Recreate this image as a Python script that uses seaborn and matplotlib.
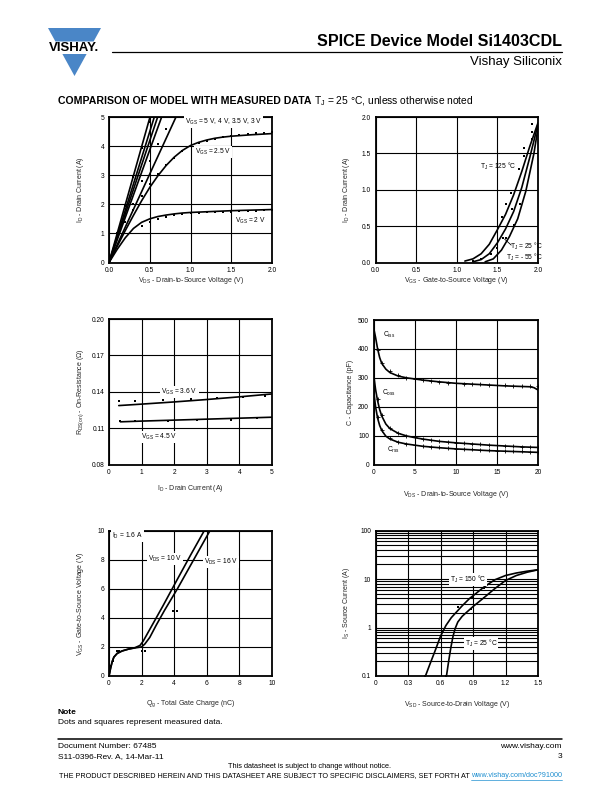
import numpy as np
import pandas as pd
import matplotlib
matplotlib.use('Agg')
import matplotlib.pyplot as plt
import seaborn as sns
from matplotlib.patches import Polygon
from matplotlib.ticker import LogLocator, NullFormatter

# ---------------- data ----------------
# Plot 1: Output characteristics (VDS in V, ID in A)
p1_steep_vds = {"5V": [0.0, 0.503], "4.5V": [0.0, 0.556], "4V": [0.0, 0.597],
                "3.5V": [0.0, 0.646], "3V": [0.0, 0.822]}
p1_steep_id = [0.0, 5.0]
p1_vds_25 = [0.0, 0.1, 0.2, 0.3, 0.4, 0.5, 0.6, 0.7, 0.8, 0.9, 1.0, 1.1, 1.2, 1.3, 1.4, 1.5, 1.75, 2.0]
p1_id_25 = [0.0, 0.55, 1.1, 1.62, 2.12, 2.58, 2.98, 3.33, 3.62, 3.85, 4.02, 4.13, 4.21, 4.27, 4.31, 4.34, 4.39, 4.43]
p1_vds_20 = [0.0, 0.1, 0.2, 0.3, 0.4, 0.5, 0.6, 0.7, 0.8, 0.9, 1.0, 1.25, 1.5, 1.75, 2.0]
p1_id_20 = [0.0, 0.45, 0.85, 1.17, 1.38, 1.5, 1.58, 1.63, 1.67, 1.7, 1.72, 1.75, 1.78, 1.8, 1.82]
p1_meas_vds = [0.4, 0.5, 0.6, 0.7, 0.8, 0.9, 1.0, 1.1, 1.2, 1.3, 1.4, 1.5, 1.6, 1.7, 1.8, 1.9, 2.0,
               0.4, 0.5, 0.6, 0.7, 0.8, 0.9, 1.0, 1.1, 1.2, 1.3, 1.4, 1.5, 1.6, 1.7, 1.8, 1.9, 2.0,
               0.5, 0.7, 0.6, 0.4, 0.6, 0.3, 0.5, 0.4, 0.4, 0.3, 0.2, 0.3, 0.1, 0.2, 0.1, 0.5]
p1_meas_id = [1.25, 1.4, 1.5, 1.58, 1.63, 1.67, 1.7, 1.71, 1.72, 1.73, 1.74, 1.75, 1.76, 1.77, 1.78, 1.79, 1.8,
              2.28, 2.7, 3.05, 3.35, 3.6, 3.83, 4.0, 4.1, 4.18, 4.24, 4.3, 4.34, 4.37, 4.41, 4.44, 4.46, 4.48,
              4.82, 4.6, 4.06, 3.92, 3.05, 2.95, 2.7, 2.8, 2.27, 2.0, 1.95, 1.8, 1.0, 1.4, 0.9, 3.5]

# Plot 2: Transfer characteristics (VGS in V, ID in A)
p2_vgs_125 = [1.1, 1.2, 1.3, 1.4, 1.5, 1.6, 1.7, 1.8, 1.9, 2.0]
p2_id_125 = [0.02, 0.05, 0.12, 0.25, 0.45, 0.66, 0.93, 1.25, 1.6, 1.92]
p2_vgs_25 = [1.2, 1.3, 1.4, 1.5, 1.6, 1.7, 1.8, 1.9, 2.0]
p2_id_25 = [0.01, 0.04, 0.12, 0.27, 0.46, 0.7, 1.03, 1.45, 1.9]
p2_vgs_m55 = [1.35, 1.45, 1.55, 1.65, 1.75, 1.85, 1.95, 2.0]
p2_id_m55 = [0.01, 0.05, 0.17, 0.36, 0.6, 0.98, 1.5, 1.85]
p2_meas_vgs = [1.92, 1.92, 1.92, 1.83, 1.83, 1.76, 1.67, 1.78, 1.61, 1.68, 1.56, 1.71, 1.57, 1.6, 1.5, 1.42, 1.3, 1.2]
p2_meas_id = [1.9, 1.8, 1.7, 1.58, 1.46, 1.28, 0.95, 0.8, 0.8, 0.73, 0.63, 0.52, 0.34, 0.33, 0.2, 0.12, 0.05, 0.02]

# Plot 3: On-resistance vs drain current (ID in A, RDS in ohm)
p3_id_36 = [0.3, 1.0, 2.0, 3.0, 4.0, 5.0]
p3_r_36 = [0.1286, 0.1298, 0.1316, 0.1336, 0.1358, 0.1382]
p3_id_45 = [0.35, 1.0, 2.0, 3.0, 4.0, 5.0]
p3_r_45 = [0.1152, 0.1158, 0.1166, 0.1174, 0.1182, 0.119]
p3_meas_id = [0.3, 0.8, 1.65, 2.5, 3.3, 4.1, 4.8, 0.35, 0.8, 1.8, 2.7, 3.75, 4.55]
p3_meas_r = [0.132, 0.1325, 0.133, 0.134, 0.135, 0.136, 0.1365, 0.1155, 0.1158, 0.1162, 0.1165, 0.117, 0.118]

# Plot 4: Capacitance (VDS in V, C in pF)
p4_vds_iss = [0, 0.25, 0.5, 0.75, 1, 1.5, 2, 3, 4, 5, 6, 8, 10, 12, 14, 16, 18, 19, 19.5, 20]
p4_c_iss = [475, 440, 400, 370, 350, 330, 318, 306, 300, 296, 292, 286, 281, 278, 275, 272, 270, 269, 266, 258]
p4_vds_oss = [0, 0.25, 0.5, 0.75, 1, 1.5, 2, 3, 4, 5, 6, 8, 10, 12, 14, 16, 18, 20]
p4_c_oss = [315, 260, 220, 190, 168, 140, 124, 108, 99, 93, 88, 80, 75, 71, 67, 64, 61, 59]
p4_vds_rss = [0, 0.25, 0.5, 0.75, 1, 1.5, 2, 3, 4, 5, 6, 8, 10, 12, 14, 16, 18, 20]
p4_c_rss = [260, 200, 160, 135, 118, 98, 88, 77, 71, 67, 63, 58, 54, 51, 48, 46, 44, 42]
p4_meas_vds = [0.5, 1, 2, 3, 4, 5, 6, 7, 8, 9, 10, 11, 12, 13, 14, 15, 16, 17, 18, 19, 20]
p4_meas_iss = [395, 352, 322, 308, 300, 296, 292, 289, 286, 283, 281, 280, 278, 277, 276, 275, 274, 273, 272, 271, 270]
p4_meas_oss = [225, 172, 128, 110, 100, 94, 89, 85, 82, 79, 76, 74, 72, 70, 68, 66, 65, 63, 62, 61, 60]
p4_meas_rss = [165, 120, 90, 78, 72, 68, 64, 61, 59, 57, 55, 53, 52, 50, 49, 48, 47, 46, 45, 44, 43]

# Plot 5: Gate charge (Qg in nC, VGS in V)
p5_q_10 = [0, 0.1, 0.2, 0.3, 0.5, 0.8, 1.2, 1.6, 1.9, 2.1, 2.4, 2.8, 3.3, 4.0, 5.0, 5.9]
p5_v_10 = [0, 0.55, 1.0, 1.3, 1.55, 1.72, 1.85, 1.95, 2.1, 2.4, 3.0, 3.8, 4.8, 6.25, 8.3, 10.1]
p5_q_16 = [0, 0.1, 0.2, 0.3, 0.5, 0.8, 1.2, 1.6, 2.0, 2.2, 2.5, 2.9, 3.4, 4.2, 5.2, 6.2]
p5_v_16 = [0, 0.55, 1.0, 1.3, 1.55, 1.72, 1.85, 1.93, 2.0, 2.2, 2.65, 3.5, 4.5, 6.0, 8.0, 10.0]
p5_meas_q = [0.0, 0.1, 0.25, 0.5, 0.6, 2.0, 2.2, 3.95, 4.15, 7.95, 8.1]
p5_meas_v = [0.0, 0.7, 1.05, 1.7, 1.75, 1.75, 1.75, 4.5, 4.5, 9.95, 9.95]

# Plot 6: Source-drain diode (VSD in V, IS in A)
p6_vsd_150 = [0.461, 0.5, 0.55, 0.6, 0.65, 0.7, 0.74, 0.8, 0.87, 0.9, 1.0, 1.1, 1.2, 1.3, 1.4, 1.5]
p6_is_150 = [0.1, 0.17, 0.33, 0.66, 1.1, 1.6, 2.0, 2.8, 4.0, 4.5, 6.8, 9.6, 11.8, 13.3, 14.5, 15.5]
p6_vsd_25 = [0.655, 0.675, 0.695, 0.715, 0.735, 0.76, 0.8, 0.84, 0.9, 1.0, 1.1, 1.2, 1.3, 1.4, 1.5]
p6_is_25 = [0.1, 0.2, 0.38, 0.65, 0.95, 1.3, 1.7, 2.05, 2.7, 4.1, 6.3, 9.3, 11.8, 13.8, 15.5]
p6_meas_vsd = [0.46, 0.76, 0.89, 1.0, 0.65, 0.88, 1.0]
p6_meas_is = [0.1, 2.6, 4.0, 6.5, 0.1, 2.4, 4.0]

# ---------------- styling ----------------
sns.set_theme(style='white')
plt.rcParams['font.family'] = ['Liberation Sans', 'DejaVu Sans']
plt.rcParams['mathtext.fontset'] = 'custom'
plt.rcParams['mathtext.rm'] = 'Liberation Sans'
plt.rcParams['mathtext.it'] = 'Liberation Sans:italic'
plt.rcParams['mathtext.bf'] = 'Liberation Sans:bold'
plt.rcParams['text.color'] = 'black'

W, H = 612, 792
fig = plt.figure(figsize=(W / 100, H / 100), dpi=100)
fig.patch.set_facecolor('white')

ov = fig.add_axes([0, 0, 1, 1], zorder=-1)
ov.set_xlim(0, W)
ov.set_ylim(H, 0)
ov.axis('off')

TICK_FS = 4.8
LAB_FS = 5.0
TXT_FS = 4.8
LW = 1.2


def px_axes(l, t, r, b):
    return fig.add_axes([l / W, 1 - b / H, (r - l) / W, (b - t) / H])


def style(ax, box, xlim, ylim, xticks, xtl, yticks, ytl, xlabel, ylabel, xl_dist, yl_dist, log=False):
    l, t, r, b = box
    if log:
        ax.set_yscale('log')
        ax.yaxis.set_minor_locator(LogLocator(base=10, subs=np.arange(2, 10)))
        ax.yaxis.set_minor_formatter(NullFormatter())
    ax.set_xlim(xlim)
    ax.set_ylim(ylim)
    ax.set_xticks(xticks)
    ax.set_xticklabels(xtl)
    ax.set_yticks(yticks)
    ax.set_yticklabels(ytl)
    ax.tick_params(which='both', length=0, labelsize=TICK_FS, pad=3.2, colors='black')
    ax.grid(True, which='both', color='black', lw=0.8)
    ax.set_axisbelow(True)
    for s in ax.spines.values():
        s.set_visible(True)
        s.set_color('black')
        s.set_linewidth(1.3)
    ax.set_xlabel(xlabel, fontsize=LAB_FS)
    ax.set_ylabel(ylabel, fontsize=LAB_FS)
    hgt = b - t
    wid = r - l
    ax.xaxis.set_label_coords(0.5, -(xl_dist - 3.5) / hgt)
    ax.yaxis.set_label_coords(-(yl_dist - 3.5) / wid, 0.5)
    ax.set_facecolor('white')


def lab(ax, x, y, s, bg=True, **kw):
    bbox = dict(boxstyle='square,pad=0.15', fc='white', ec='none') if bg else None
    ax.text(x, y, s, fontsize=TXT_FS, ha='left', va='center', bbox=bbox, zorder=5, **kw)


def curves(ax, xs_list, ys_list):
    rows = []
    for i, (xs, ys) in enumerate(zip(xs_list, ys_list)):
        for xv, yv in zip(xs, ys):
            rows.append((i, xv, yv))
    df = pd.DataFrame(rows, columns=['curve', 'x', 'y'])
    sns.lineplot(data=df, x='x', y='y', units='curve', estimator=None, sort=False,
                 color='black', lw=LW, ax=ax, legend=False)


def dots(ax, xs, ys, marker='s', s=2.5):
    sns.scatterplot(x=xs, y=ys, ax=ax, color='black', marker=marker, s=s,
                    linewidth=0 if marker == 's' else 0.6, edgecolor='black', zorder=4, legend=False)


COL_L = (109, 272)
COL_R = (375.5, 538)
ROW1 = (117, 262.5)
ROW2 = (319, 464.5)
ROW3 = (530.5, 676)

# ---- Plot 1 ----
box1 = (COL_L[0], ROW1[0], COL_L[1], ROW1[1])
ax1 = px_axes(*box1)
curves(ax1, list(p1_steep_vds.values()) + [p1_vds_25, p1_vds_20],
       [p1_steep_id] * len(p1_steep_vds) + [p1_id_25, p1_id_20])
dots(ax1, p1_meas_vds, p1_meas_id)
style(ax1, box1, (0, 2), (0, 5), [0, 0.5, 1.0, 1.5, 2.0], ['0.0', '0.5', '1.0', '1.5', '2.0'],
      [0, 1, 2, 3, 4, 5], ['0', '1', '2', '3', '4', '5'],
      r'V$_{\rm DS}$ - Drain-to-Source Voltage (V)', r'I$_{\rm D}$ - Drain Current (A)', 16, 27)
lab(ax1, 0.93, 4.83, r'V$_{\rm GS}$ = 5 V, 4 V, 3.5 V, 3 V')
lab(ax1, 1.05, 3.8, r'V$_{\rm GS}$ = 2.5 V')
lab(ax1, 1.55, 1.42, r'V$_{\rm GS}$ = 2 V')

# ---- Plot 2 ----
box2 = (COL_R[0], ROW1[0], COL_R[1], ROW1[1])
ax2 = px_axes(*box2)
curves(ax2, [p2_vgs_125, p2_vgs_25, p2_vgs_m55], [p2_id_125, p2_id_25, p2_id_m55])
dots(ax2, p2_meas_vgs, p2_meas_id)
style(ax2, box2, (0, 2), (0, 2), [0, 0.5, 1.0, 1.5, 2.0], ['0.0', '0.5', '1.0', '1.5', '2.0'],
      [0, 0.5, 1.0, 1.5, 2.0], ['0.0', '0.5', '1.0', '1.5', '2.0'],
      r'V$_{\rm GS}$ - Gate-to-Source Voltage (V)', r'I$_{\rm D}$ - Drain Current (A)', 16, 27)
lab(ax2, 1.29, 1.32, r'T$_{\rm J}$ = 125 °C', bg=False)
lab(ax2, 1.65, 0.22, r'T$_{\rm J}$ = 25 °C', bg=False)
lab(ax2, 1.6, 0.07, r'T$_{\rm J}$ = - 55 °C', bg=False)
ax2.plot([1.59, 1.67], [0.32, 0.24], color='black', lw=0.6)

# ---- Plot 3 ----
box3 = (COL_L[0], ROW2[0], COL_L[1], ROW2[1])
ax3 = px_axes(*box3)
curves(ax3, [p3_id_36, p3_id_45], [p3_r_36, p3_r_45])
dots(ax3, p3_meas_id, p3_meas_r)
style(ax3, box3, (0, 5), (0.08, 0.20), [0, 1, 2, 3, 4, 5], ['0', '1', '2', '3', '4', '5'],
      [0.08, 0.11, 0.14, 0.17, 0.20], ['0.08', '0.11', '0.14', '0.17', '0.20'],
      r'I$_{\rm D}$ - Drain Current (A)', r'R$_{\rm DS(on)}$ - On-Resistance (Ω)', 22, 27)
lab(ax3, 1.6, 0.1398, r'V$_{\rm GS}$ = 3.6 V')
lab(ax3, 0.98, 0.103, r'V$_{\rm GS}$ = 4.5 V')

# ---- Plot 4 ----
box4 = (COL_R[0] - 2, ROW2[0] + 1, COL_R[1], ROW2[1])
ax4 = px_axes(*box4)
curves(ax4, [p4_vds_iss, p4_vds_oss, p4_vds_rss], [p4_c_iss, p4_c_oss, p4_c_rss])
dots(ax4, p4_meas_vds * 3, p4_meas_iss + p4_meas_oss + p4_meas_rss, marker='+', s=6)
style(ax4, box4, (0, 20), (0, 500), [0, 5, 10, 15, 20], ['0', '5', '10', '15', '20'],
      [0, 100, 200, 300, 400, 500], ['0', '100', '200', '300', '400', '500'],
      r'V$_{\rm DS}$ - Drain-to-Source Voltage (V)', 'C - Capacitance (pF)', 28, 23)
lab(ax4, 1.2, 448, r'C$_{\rm iss}$', bg=False)
lab(ax4, 1.0, 247, r'C$_{\rm oss}$', bg=False)
lab(ax4, 1.6, 52, r'C$_{\rm rss}$', bg=False)

# ---- Plot 5 ----
box5 = (COL_L[0], ROW3[0], COL_L[1], ROW3[1])
ax5 = px_axes(*box5)
curves(ax5, [p5_q_10, p5_q_16], [p5_v_10, p5_v_16])
dots(ax5, p5_meas_q, p5_meas_v)
style(ax5, box5, (0, 10), (0, 10), [0, 2, 4, 6, 8, 10], ['0', '2', '4', '6', '8', '10'],
      [0, 2, 4, 6, 8, 10], ['0', '2', '4', '6', '8', '10'],
      r'Q$_{\rm g}$ - Total Gate Charge (nC)', r'V$_{\rm GS}$ - Gate-to-Source Voltage (V)', 26, 27)
lab(ax5, 0.2, 9.6, r'I$_{\rm D}$ = 1.6 A')
lab(ax5, 2.38, 8.05, r'V$_{\rm DS}$ = 10 V')
lab(ax5, 5.83, 7.83, r'V$_{\rm DS}$ = 16 V')

# ---- Plot 6 ----
box6 = (COL_R[0], ROW3[0], COL_R[1], ROW3[1])
ax6 = px_axes(*box6)
curves(ax6, [p6_vsd_150, p6_vsd_25], [p6_is_150, p6_is_25])
dots(ax6, p6_meas_vsd, p6_meas_is)
style(ax6, box6, (0, 1.5), (0.1, 100), [0, 0.3, 0.6, 0.9, 1.2, 1.5], ['0', '0.3', '0.6', '0.9', '1.2', '1.5'],
      [0.1, 1, 10, 100], ['0.1', '1', '10', '100'],
      r'V$_{\rm SD}$ - Source-to-Drain Voltage (V)', r'I$_{\rm S}$ - Source Current (A)', 27, 27, log=True)
lab(ax6, 0.685, 9.6, r'T$_{\rm J}$ = 150 °C')
lab(ax6, 0.824, 0.47, r'T$_{\rm J}$ = 25 °C')

# ---------------- page furniture ----------------
blue = '#4a86c7'
ov.add_patch(Polygon([(48, 28), (101, 28), (93.6, 41.5), (55.4, 41.5)], closed=True, fc=blue, ec='none'))
ov.add_patch(Polygon([(62.4, 54), (86.6, 54), (74.5, 76)], closed=True, fc=blue, ec='none'))
ov.text(74.5, 48, 'VISHAY.', fontsize=9.5, fontweight='bold', ha='center', va='center')

ov.text(562, 41, 'SPICE Device Model Si1403CDL', fontsize=11.6, fontweight='bold', ha='right', va='center')
ov.plot([112, 562], [52, 52], color='black', lw=0.9)
ov.text(562, 62, 'Vishay Siliconix', fontsize=9.5, ha='right', va='center')

fig.canvas.draw()
rend = fig.canvas.get_renderer()
inv = ov.transData.inverted()

t_head = ov.text(58, 101, 'COMPARISON OF MODEL WITH MEASURED DATA', fontsize=7.6, fontweight='heavy',
                 ha='left', va='center')
bb = t_head.get_window_extent(renderer=rend)
x_end = inv.transform((bb.x1, bb.y0))[0]
ov.text(x_end + 3, 101, r'T$_{\rm J}$ = 25 °C, unless otherwise noted', fontsize=7.4, ha='left', va='center')

ov.text(58, 712, 'Note', fontsize=6, fontweight='bold', ha='left', va='center')
ov.text(58, 723, 'Dots and squares represent measured data.', fontsize=6, ha='left', va='center')
ov.plot([58, 562], [739, 739], color='black', lw=1.1)
ov.text(58, 746, 'Document Number: 67485', fontsize=6, ha='left', va='center')
ov.text(58, 757, 'S11-0396-Rev. A, 14-Mar-11', fontsize=6, ha='left', va='center')
ov.text(562, 746, 'www.vishay.com', fontsize=6, ha='right', va='center')
ov.text(562, 757, '3', fontsize=6, ha='right', va='center')
ov.text(310, 767, 'This datasheet is subject to change without notice.', fontsize=5.3, ha='center', va='center')

t_link = ov.text(562, 775.5, 'www.vishay.com/doc?91000', fontsize=5.2, ha='right', va='center', color='#1f8fd0')
bb = t_link.get_window_extent(renderer=rend)
x0 = inv.transform((bb.x0, bb.y0))[0]
ov.plot([x0, 562], [779.5, 779.5], color='#1f8fd0', lw=0.5)
ov.text(x0 - 1.5, 775.5, 'THE PRODUCT DESCRIBED HEREIN AND THIS DATASHEET ARE SUBJECT TO SPECIFIC DISCLAIMERS, SET FORTH AT',
        fontsize=5.2, ha='right', va='center')

fig.savefig('out.png', dpi=100, facecolor='white')
